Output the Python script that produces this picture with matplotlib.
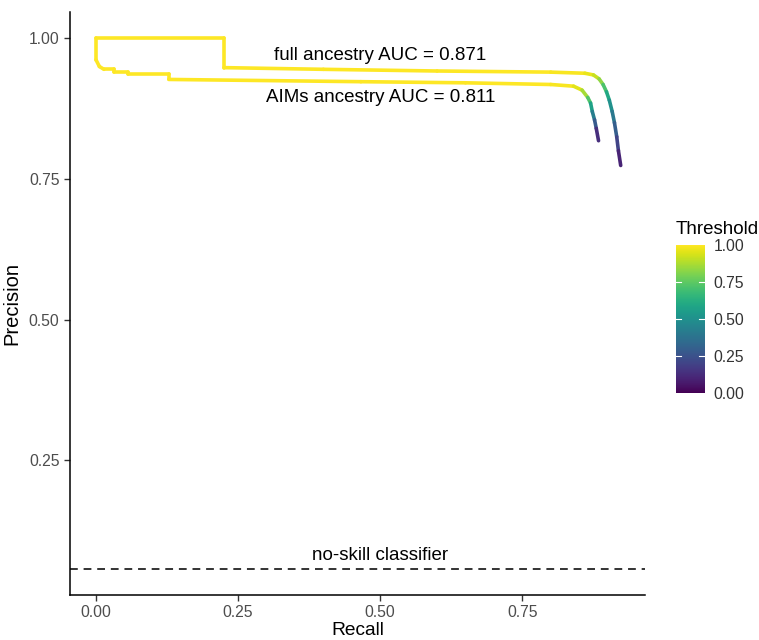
import numpy as np
import matplotlib
matplotlib.use("Agg")
import matplotlib.pyplot as plt
from matplotlib.collections import LineCollection
from matplotlib.colors import Normalize

plt.rcParams['font.family'] = ['Liberation Sans', 'DejaVu Sans']

# full ancestry PR curve (recall, precision, threshold)
full_recall = [0.0, 0.225, 0.225, 0.40, 0.60, 0.80, 0.86, 0.875, 0.885, 0.892,
               0.898, 0.903, 0.908, 0.912, 0.916, 0.919, 0.923]
full_precision = [1.0, 1.0, 0.948, 0.945, 0.942, 0.940, 0.938, 0.935, 0.928, 0.918,
                  0.905, 0.89, 0.87, 0.85, 0.825, 0.80, 0.774]
full_threshold = [1.0, 1.0, 1.0, 1.0, 1.0, 1.0, 0.98, 0.95, 0.88, 0.78,
                  0.65, 0.55, 0.45, 0.35, 0.25, 0.15, 0.05]

# AIMs ancestry PR curve
aims_recall = [0.0, 0.0, 0.006, 0.014, 0.032, 0.032, 0.056, 0.056, 0.128, 0.128,
               0.466, 0.65, 0.80, 0.84, 0.855, 0.865, 0.870, 0.873, 0.877, 0.880, 0.884]
aims_precision = [1.0, 0.962, 0.950, 0.945, 0.945, 0.941, 0.941, 0.936, 0.936, 0.927,
                  0.923, 0.921, 0.918, 0.915, 0.908, 0.895, 0.885, 0.87, 0.855, 0.84, 0.818]
aims_threshold = [1.0, 1.0, 1.0, 1.0, 1.0, 1.0, 1.0, 1.0, 1.0, 1.0,
                  1.0, 1.0, 1.0, 0.98, 0.93, 0.80, 0.65, 0.50, 0.35, 0.22, 0.05]

no_skill = 0.057

fig = plt.figure(figsize=(7.59, 6.40), dpi=100)
ax = fig.add_axes([0.092, 0.0703, 0.758, 0.911])
norm = Normalize(0, 1)
cmap = plt.get_cmap("viridis")


def draw_curve(r, p, t):
    pts = np.column_stack([r, p])
    segs = np.stack([pts[:-1], pts[1:]], axis=1)
    tt = np.asarray(t)
    lc = LineCollection(segs, cmap=cmap, norm=norm, linewidths=2.6,
                        capstyle="round", joinstyle="round")
    lc.set_array((tt[:-1] + tt[1:]) / 2)
    ax.add_collection(lc)
    return lc


lc = draw_curve(full_recall, full_precision, full_threshold)
draw_curve(aims_recall, aims_precision, aims_threshold)

ax.axhline(no_skill, color="#333333", lw=1.4, ls=(0, (4, 3)))

ax.text(0.5, 0.970, "full ancestry AUC = 0.871", ha="center", va="center", fontsize=13.5)
ax.text(0.5, 0.895, "AIMs ancestry AUC = 0.811", ha="center", va="center", fontsize=13.5)
ax.text(0.5, 0.080, "no-skill classifier", ha="center", va="center", fontsize=13.5)

ax.set_xlim(-0.046, 0.966)
ax.set_ylim(0.010, 1.047)
ax.set_xticks([0, 0.25, 0.5, 0.75])
ax.set_xticklabels(["0.00", "0.25", "0.50", "0.75"])
ax.set_yticks([0.25, 0.5, 0.75, 1.0])
ax.set_yticklabels(["0.25", "0.50", "0.75", "1.00"])
for s in ["top", "right"]:
    ax.spines[s].set_visible(False)
for s in ["left", "bottom"]:
    ax.spines[s].set_linewidth(1.1)
ax.tick_params(labelsize=11.3, labelcolor="#4D4D4D", length=4, width=1.0, color="#333333")
ax.set_xlabel("Recall", fontsize=13.8, labelpad=1)
ax.set_ylabel("Precision", fontsize=14.5, labelpad=5)

# colour bar legend
cax = fig.add_axes([0.890, 0.386, 0.039, 0.231])
cb = fig.colorbar(lc, cax=cax, ticks=[0, 0.25, 0.5, 0.75, 1.0])
cb.outline.set_visible(False)
cb.ax.set_yticklabels(["0.00", "0.25", "0.50", "0.75", "1.00"])
cb.ax.tick_params(labelsize=11.3, labelcolor="#333333", length=0, pad=6)
for v in [0.25, 0.5, 0.75]:
    cax.plot([0, 0.2], [v, v], color="white", lw=0.8, transform=cax.get_yaxis_transform())
    cax.plot([0.8, 1.0], [v, v], color="white", lw=0.8, transform=cax.get_yaxis_transform())
cax.set_title("Threshold", fontsize=13.5, loc="left", pad=8)

fig.savefig("out.png", dpi=100)
